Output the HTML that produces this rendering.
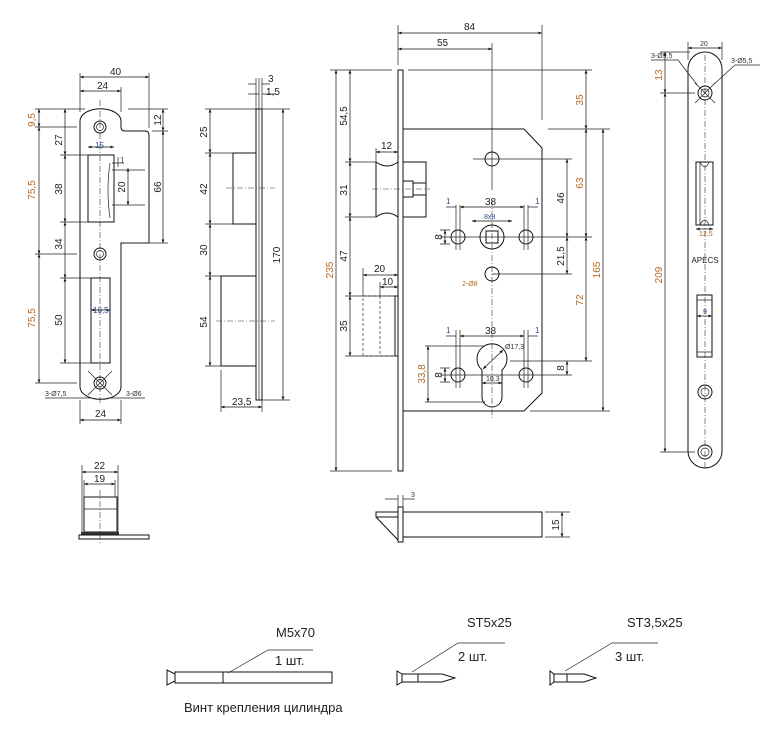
<!DOCTYPE html>
<html><head><meta charset="utf-8"><style>
html,body{margin:0;padding:0;background:#fff}
svg{display:block}
text{font-family:"Liberation Sans",sans-serif;font-size:10px;fill:#222}
.o{fill:#b8661f}
.b{fill:#2a4a8a;font-size:8px}
.s{font-size:7px;fill:#333}
.l{stroke:#111;stroke-width:1;fill:none}
.t{stroke:#222;stroke-width:0.7;fill:none}
.d{stroke:#111;stroke-width:0.7;fill:none;marker-start:url(#a);marker-end:url(#a)}
.c{stroke:#333;stroke-width:0.6;stroke-dasharray:6,2,1,2;fill:none}
.h{stroke:#333;stroke-width:0.7;stroke-dasharray:3,2;fill:none}
</style></head><body>
<svg width="760" height="737" viewBox="0 0 760 737" xmlns="http://www.w3.org/2000/svg">
<defs><marker id="a" viewBox="0 0 10 10" refX="10" refY="5" markerWidth="7" markerHeight="5" orient="auto-start-reverse"><path d="M0,1L10,5L0,9z" fill="#111"/></marker></defs>

<!-- LEFT STRIKE PLATE -->
<path class="l" d="M80,121 A20,12 0 0 1 121,121 L121,127 Q121,131 125,131 L145,131 Q149,131 149,135 L149,243 L121,243 L121,387 A20,12 0 0 1 80,387 Z"/>
<rect class="l" x="88" y="155" width="26" height="67"/>
<path class="t" d="M110,163 Q106,190 110,218"/>
<rect class="l" x="91" y="278" width="19" height="85"/>
<line class="c" x1="100" y1="100" x2="100" y2="405"/>
<circle class="l" cx="100" cy="127" r="6"/><circle class="t" cx="100" cy="127" r="3.5"/>
<circle class="l" cx="100" cy="254" r="6"/><circle class="t" cx="100" cy="254" r="3.5"/>
<circle class="l" cx="100" cy="383" r="6"/><circle class="t" cx="100" cy="383" r="3.5"/>
<path class="t" d="M88,371 L112,395 M112,371 L88,395"/>
<path class="t" d="M80,73V112 M121,87V112 M149,73V128 M80,400V424 M121,400V424"/>
<line class="d" x1="80" y1="77" x2="149" y2="77"/><text x="110" y="75">40</text>
<line class="d" x1="80" y1="91" x2="121" y2="91"/><text x="97" y="89">24</text>
<line class="d" x1="80" y1="420" x2="121" y2="420"/><text x="95" y="417">24</text>
<path class="t" d="M35,109H85 M35,127H77 M35,254H77 M35,383H77 M60,155H88 M60,222H88 M60,278H91 M60,363H91 M128,109H168 M152,131H168 M125,243H168"/>
<line class="d" x1="39" y1="109" x2="39" y2="127"/>
<line class="d" x1="39" y1="127" x2="39" y2="254"/>
<line class="d" x1="39" y1="254" x2="39" y2="383"/>
<line class="d" x1="65" y1="109" x2="65" y2="155"/>
<line class="d" x1="65" y1="155" x2="65" y2="222"/>
<line class="d" x1="65" y1="222" x2="65" y2="278"/>
<line class="d" x1="65" y1="278" x2="65" y2="363"/>
<line class="d" x1="163" y1="109" x2="163" y2="131"/>
<line class="d" x1="163" y1="131" x2="163" y2="243"/>
<line class="d" x1="128" y1="168" x2="128" y2="205"/>
<path class="t" d="M112,170H145 M112,205H145 M118,157V167 M112,163H124"/>
<line class="d" x1="88" y1="147" x2="114" y2="147"/><text class="b" x="95" y="148">15</text>
<text class="b" x="120" y="163">1</text>
<line class="d" x1="91" y1="310" x2="110" y2="310"/><text class="b" x="93" y="313">10,5</text>
<g class="o">
<text class="o" transform="translate(35,120) rotate(-90)" text-anchor="middle">9,5</text>
<text class="o" transform="translate(35,190) rotate(-90)" text-anchor="middle">75,5</text>
<text class="o" transform="translate(35,318) rotate(-90)" text-anchor="middle">75,5</text>
<text transform="translate(62,140) rotate(-90)" text-anchor="middle">27</text>
<text transform="translate(62,189) rotate(-90)" text-anchor="middle">38</text>
<text transform="translate(62,244) rotate(-90)" text-anchor="middle">34</text>
<text transform="translate(62,320) rotate(-90)" text-anchor="middle">50</text>
<text transform="translate(161,120) rotate(-90)" text-anchor="middle">12</text>
<text transform="translate(161,187) rotate(-90)" text-anchor="middle">66</text>
<text transform="translate(125,187) rotate(-90)" text-anchor="middle">20</text>
</g>
<path class="t" d="M45,398H92 M108,398H145"/>
<text class="s" x="45" y="396">3-Ø7,5</text><text class="s" x="126" y="396">3-Ø6</text>

<!-- SIDE VIEW -->
<rect class="l" x="256" y="109" width="6" height="291"/>
<line class="t" x1="259" y1="109" x2="259" y2="400"/>
<rect class="l" x="233" y="153" width="23" height="71"/>
<rect class="l" x="221" y="276" width="35" height="90"/>
<line class="c" x1="226" y1="188" x2="275" y2="188"/>
<line class="c" x1="216" y1="321" x2="275" y2="321"/>
<path class="t" d="M205,109H256 M205,153H233 M205,224H233 M205,276H221 M205,366H221 M262,109H290 M262,400H290 M221,370V412 M262,400V412 M256,78V109 M259,78V109 M262,78V109"/>
<line class="d" x1="210" y1="109" x2="210" y2="153"/>
<line class="d" x1="210" y1="153" x2="210" y2="224"/>
<line class="d" x1="210" y1="224" x2="210" y2="276"/>
<line class="d" x1="210" y1="276" x2="210" y2="366"/>
<line class="d" x1="283" y1="109" x2="283" y2="400"/>
<line class="d" x1="221" y1="407" x2="262" y2="407"/><text x="232" y="405">23,5</text>
<path class="t" d="M248,84H256 M262,84H270 M248,94H259 M262,94H276"/>
<text x="268" y="82">3</text><text x="266" y="95">1,5</text>
<text transform="translate(207,132) rotate(-90)" text-anchor="middle">25</text>
<text transform="translate(207,189) rotate(-90)" text-anchor="middle">42</text>
<text transform="translate(207,250) rotate(-90)" text-anchor="middle">30</text>
<text transform="translate(207,322) rotate(-90)" text-anchor="middle">54</text>
<text transform="translate(280,255) rotate(-90)" text-anchor="middle">170</text>

<!-- MAIN BODY -->
<rect class="l" x="398" y="70" width="5" height="401"/>
<path class="l" d="M403,129H524L542,148V393L524,411H403"/>
<path class="l" d="M376,162 Q387,170 398,162 M376,217 Q387,209 398,217 M376,162V217 M398,162V217"/>
<rect class="l" x="403" y="162" width="23" height="55"/>
<rect class="l" x="403" y="181" width="10" height="16"/>
<rect class="l" x="413" y="183" width="13" height="12"/>
<line class="c" x1="372" y1="189" x2="430" y2="189"/>
<rect class="h" x="363" y="296" width="35" height="60"/>
<line class="h" x1="380" y1="296" x2="380" y2="356"/>
<rect class="l" x="395" y="296" width="3" height="60"/>
<line class="t" x1="492" y1="43" x2="492" y2="190"/>
<line class="c" x1="492" y1="200" x2="492" y2="420"/>
<circle class="l" cx="492" cy="159" r="7"/>
<line class="t" x1="473" y1="159" x2="572" y2="159"/>
<circle class="l" cx="492" cy="237" r="12"/>
<rect class="l" x="486" y="231" width="12" height="12"/>
<ellipse class="l" cx="458" cy="237" rx="7" ry="7"/>
<ellipse class="l" cx="526" cy="237" rx="7" ry="7"/>
<line class="t" x1="440" y1="237" x2="592" y2="237"/>
<circle class="l" cx="492" cy="274" r="7"/>
<line class="t" x1="492" y1="274" x2="572" y2="274"/>
<path class="l" d="M482,370 A15,15 0 1 1 502,370 V397 A10,10 0 0 1 482,397 Z"/>
<line class="d" x1="483" y1="369" x2="503" y2="350"/>
<ellipse class="l" cx="458" cy="375" rx="7" ry="7"/>
<ellipse class="l" cx="526" cy="375" rx="7" ry="7"/>
<line class="t" x1="440" y1="375" x2="572" y2="375"/>
<line class="t" x1="510" y1="361" x2="592" y2="361"/>
<path class="t" d="M456,205V250 M460,205V250 M524,205V250 M528,205V250 M456,330V388 M460,330V388 M524,330V388 M528,330V388"/>
<path class="t" d="M398,25V65 M542,25V120 M330,70H392 M408,70H592 M330,471H392 M345,162H376 M345,217H376 M345,296H398 M345,356H398 M548,129H610 M530,411H610 M363,268V296 M380,282V296 M376,148V162 M425,346H485 M425,402H485 M440,230H450 M440,244H450 M440,368H450 M440,382H450"/>
<line class="d" x1="398" y1="33" x2="542" y2="33"/><text x="464" y="30">84</text>
<line class="d" x1="398" y1="49" x2="492" y2="49"/><text x="437" y="46">55</text>
<line class="d" x1="336" y1="70" x2="336" y2="471"/>
<line class="d" x1="350" y1="70" x2="350" y2="162"/>
<line class="d" x1="350" y1="162" x2="350" y2="217"/>
<line class="d" x1="350" y1="217" x2="350" y2="296"/>
<line class="d" x1="350" y1="296" x2="350" y2="356"/>
<line class="d" x1="376" y1="152" x2="398" y2="152"/><text x="381" y="149">12</text>
<line class="d" x1="363" y1="275" x2="398" y2="275"/><text x="374" y="272">20</text>
<line class="d" x1="380" y1="287" x2="398" y2="287"/><text x="382" y="285">10</text>
<line class="d" x1="586" y1="70" x2="586" y2="129"/>
<line class="d" x1="586" y1="129" x2="586" y2="237"/>
<line class="d" x1="586" y1="237" x2="586" y2="361"/>
<line class="d" x1="567" y1="159" x2="567" y2="237"/>
<line class="d" x1="567" y1="237" x2="567" y2="274"/>
<line class="d" x1="567" y1="361" x2="567" y2="375"/>
<line class="d" x1="603" y1="129" x2="603" y2="411"/>
<line class="d" x1="460" y1="207" x2="524" y2="207"/><text x="485" y="205">38</text>
<line class="d" x1="460" y1="336" x2="524" y2="336"/><text x="485" y="334">38</text>
<path class="t" d="M446,207H456 M528,207H538 M446,336H456 M528,336H538"/>
<text class="b" x="446" y="204">1</text><text class="b" x="535" y="204">1</text>
<text class="b" x="446" y="333">1</text><text class="b" x="535" y="333">1</text>
<line class="d" x1="472" y1="221" x2="512" y2="221"/><text class="b" x="484" y="219" style="font-size:7px">8x8</text>
<line class="d" x1="445" y1="230" x2="445" y2="244"/>
<line class="d" x1="445" y1="368" x2="445" y2="382"/>
<line class="d" x1="428" y1="346" x2="428" y2="402"/>
<line class="d" x1="482" y1="383" x2="502" y2="383"/>
<text class="s" x="505" y="349">Ø17,3</text><text class="s" x="486" y="381">10,3</text>
<text class="s" x="462" y="286" style="fill:#b8661f">2-Ø8</text>
<text class="o" transform="translate(333,270) rotate(-90)" text-anchor="middle">235</text>
<text transform="translate(347,116) rotate(-90)" text-anchor="middle">54,5</text>
<text transform="translate(347,190) rotate(-90)" text-anchor="middle">31</text>
<text transform="translate(347,256) rotate(-90)" text-anchor="middle">47</text>
<text transform="translate(347,326) rotate(-90)" text-anchor="middle">35</text>
<text transform="translate(442,237) rotate(-90)" text-anchor="middle">8</text>
<text transform="translate(442,375) rotate(-90)" text-anchor="middle">8</text>
<text class="o" transform="translate(425,374) rotate(-90)" text-anchor="middle">33,8</text>
<text class="o" transform="translate(583,100) rotate(-90)" text-anchor="middle">35</text>
<text class="o" transform="translate(583,183) rotate(-90)" text-anchor="middle">63</text>
<text class="o" transform="translate(583,300) rotate(-90)" text-anchor="middle">72</text>
<text transform="translate(564,198) rotate(-90)" text-anchor="middle">46</text>
<text transform="translate(564,256) rotate(-90)" text-anchor="middle">21,5</text>
<text transform="translate(564,368) rotate(-90)" text-anchor="middle">8</text>
<text class="o" transform="translate(600,270) rotate(-90)" text-anchor="middle">165</text>

<!-- RIGHT FACEPLATE -->
<rect class="l" x="688" y="52" width="34" height="416" rx="17"/>
<line class="c" x1="705" y1="55" x2="705" y2="470"/>
<circle class="l" cx="705" cy="93" r="7"/><circle class="t" cx="705" cy="93" r="4"/>
<path class="t" d="M695,83L715,103M715,83L695,103 M651,60H678L698,86 M760,65H735L712,86"/>
<text class="s" x="651" y="58">3-Ø9,5</text><text class="s" x="731" y="63">3-Ø5,5</text>
<rect class="l" x="696" y="162" width="17" height="63"/>
<path class="t" d="M700,162V225 M709,162 Q705,172 700,162 M709,225 Q705,215 700,225"/>
<line class="d" x1="696" y1="229" x2="713" y2="229"/><text class="s" x="699" y="236" style="fill:#b8661f">12,5</text>
<text x="705" y="263" text-anchor="middle" style="font-size:8px">APECS</text>
<rect class="l" x="697" y="295" width="15" height="62"/>
<path class="t" d="M697,300H712 M697,352H712"/>
<line class="d" x1="697" y1="316" x2="712" y2="316"/><text class="s" x="703" y="314" style="fill:#2a4a8a">9</text>
<circle class="l" cx="705" cy="392" r="7"/><circle class="t" cx="705" cy="392" r="4"/>
<circle class="l" cx="705" cy="452" r="7"/><circle class="t" cx="705" cy="452" r="4"/>
<path class="t" d="M688,42V60 M722,42V60 M660,52H690 M660,93H695 M660,452H695"/>
<line class="d" x1="688" y1="48" x2="722" y2="48"/><text class="s" x="700" y="46">20</text>
<line class="d" x1="665" y1="52" x2="665" y2="93"/>
<line class="d" x1="665" y1="93" x2="665" y2="452"/>
<text class="o" transform="translate(662,75) rotate(-90)" text-anchor="middle">13</text>
<text class="o" transform="translate(662,275) rotate(-90)" text-anchor="middle">209</text>

<!-- BOTTOM LEFT VIEW -->
<path class="t" d="M82,465V532 M118,465V532 M84,480V497 M115,480V497"/>
<line class="d" x1="82" y1="472" x2="118" y2="472"/><text x="94" y="469">22</text>
<line class="d" x1="84" y1="484" x2="115" y2="484"/><text x="94" y="482">19</text>
<rect class="l" x="84" y="497" width="33" height="35"/>
<line class="t" x1="84" y1="509" x2="117" y2="509"/>
<rect x="81" y="532" width="38" height="3" fill="#333"/>
<rect class="l" x="79" y="535" width="70" height="4"/>
<line class="c" x1="100" y1="490" x2="100" y2="545"/>

<!-- DEADBOLT SIDE -->
<rect class="l" x="398" y="507" width="5" height="35"/>
<rect class="l" x="403" y="512" width="139" height="25"/>
<path class="l" d="M398,512H376V517H398 M376,517L398,540"/>
<path class="t" d="M398,495V507 M403,495V507 M385,499H398 M403,499H415 M545,512H570 M545,537H570"/>
<text class="s" x="411" y="497">3</text>
<line class="d" x1="562" y1="512" x2="562" y2="537"/>
<text transform="translate(559,525) rotate(-90)" text-anchor="middle">15</text>

<!-- SCREWS -->
<path class="l" d="M167,670L175,674V681L167,685Z"/>
<rect class="l" x="175" y="672" width="157" height="11"/>
<line class="l" x1="223" y1="672" x2="223" y2="683"/>
<path class="t" d="M228,673L268,650H313"/>
<text x="276" y="637" style="font-size:13px">M5x70</text>
<text x="275" y="665" style="font-size:13px">1 шт.</text>
<text x="184" y="712" style="font-size:13px">Винт крепления цилиндра</text>
<path class="l" d="M397,671L402,674V682L397,685Z M402,674H418V682H402 M418,674H442L455,678L442,682H418 M418,674V682"/>
<path class="t" d="M412,672L458,643H505"/>
<text x="467" y="627" style="font-size:13px">ST5x25</text>
<text x="458" y="661" style="font-size:13px">2 шт.</text>
<path class="l" d="M550,671L554,674V682L550,685Z M554,674H567V682H554 M567,674H584L596,678L584,682H567 M567,674V682"/>
<path class="t" d="M565,671L612,643H658"/>
<text x="627" y="627" style="font-size:13px">ST3,5x25</text>
<text x="615" y="661" style="font-size:13px">3 шт.</text>
</svg>
</body></html>
